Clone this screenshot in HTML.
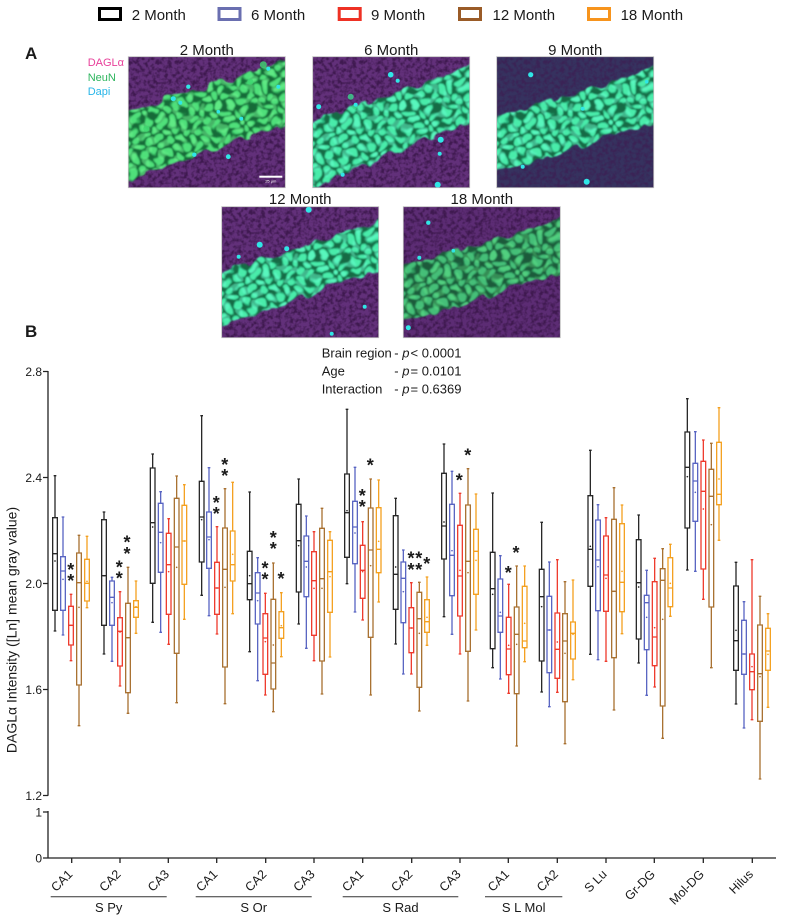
<!DOCTYPE html>
<html>
<head>
<meta charset="utf-8">
<style>
html,body{margin:0;padding:0;background:#fff;}
svg{display:block;}
text{font-family:"Liberation Sans","DejaVu Sans",sans-serif;fill:#1a1a1a;}
.bx path{fill:none;stroke-width:1.3;vector-effect:non-scaling-stroke;}
.k path{stroke:#262626}.k circle{fill:#262626}
.b path{stroke:#5864c2}.b circle{fill:#5864c2}
.r path{stroke:#ee3a2c}.r circle{fill:#ee3a2c}
.n path{stroke:#a87030}.n circle{fill:#a87030}
.o path{stroke:#f4a01f}.o circle{fill:#f4a01f}
.ax{stroke:#222;stroke-width:1.3;fill:none;}
.st{font-weight:bold;font-size:18px;text-anchor:middle;fill:#111;}
.tl{font-size:12px;text-anchor:end;}
.xl{font-size:12.5px;text-anchor:end;}
</style>
</head>
<body>
<svg width="787" height="921" viewBox="0 0 787 921" xmlns="http://www.w3.org/2000/svg">
<defs>
  <clipPath id="ci"><rect width="157" height="131"/></clipPath>
  <filter id="spk" x="0" y="0" width="1" height="1">
    <feTurbulence type="fractalNoise" baseFrequency="0.25" numOctaves="2" seed="2"/>
    <feColorMatrix type="matrix" values="0 0 0 0 0.05  0 0 0 0 0.01  0 0 0 0 0.08  3 0 0 0 -1.2"/>
  </filter>
  <filter id="rough" x="-10%" y="-10%" width="120%" height="120%">
    <feTurbulence type="fractalNoise" baseFrequency="0.06" numOctaves="2" seed="5" result="t"/>
    <feDisplacementMap in="SourceGraphic" in2="t" scale="16" xChannelSelector="R" yChannelSelector="G" result="d"/>
    <feGaussianBlur in="d" stdDeviation="0.7"/>
  </filter>
  <pattern id="cA" width="10" height="9" patternUnits="userSpaceOnUse" patternTransform="rotate(-30)">
    <rect width="10" height="9" fill="#166a38"/>
    <ellipse cx="5" cy="4.5" rx="4.1" ry="3.6" fill="#4fe07a"/>
    <ellipse cx="5" cy="4.5" rx="4.1" ry="3.6" fill="none" stroke="#2aa856" stroke-width="0.8"/>
  </pattern>
  <pattern id="cA2" width="13" height="11" patternUnits="userSpaceOnUse" patternTransform="rotate(17) translate(3 2)">
    <ellipse cx="6" cy="5" rx="3.8" ry="3.4" fill="#6cf08c" opacity="0.55"/>
  </pattern>
  <pattern id="cB" width="10" height="9" patternUnits="userSpaceOnUse" patternTransform="rotate(-30)">
    <rect width="10" height="9" fill="#166a44"/>
    <ellipse cx="5" cy="4.5" rx="4.1" ry="3.6" fill="#48ecaa"/>
    <ellipse cx="5" cy="4.5" rx="4.1" ry="3.6" fill="none" stroke="#26b07a" stroke-width="0.8"/>
  </pattern>
  <pattern id="cB2" width="13" height="11" patternUnits="userSpaceOnUse" patternTransform="rotate(17) translate(3 2)">
    <ellipse cx="6" cy="5" rx="3.8" ry="3.4" fill="#6affd0" opacity="0.5"/>
  </pattern>
  <pattern id="cC" width="10" height="9" patternUnits="userSpaceOnUse" patternTransform="rotate(-30)">
    <rect width="10" height="9" fill="#1a5a3a"/>
    <ellipse cx="5" cy="4.5" rx="4.1" ry="3.6" fill="#44bf78"/>
    <ellipse cx="5" cy="4.5" rx="4.1" ry="3.6" fill="none" stroke="#2a9058" stroke-width="0.8"/>
  </pattern>
</defs>

<!-- Legend -->
<g stroke-width="3" fill="none">
  <rect x="99.5" y="8.5" width="21" height="11" stroke="#000"/>
  <rect x="219" y="8.5" width="21" height="11" stroke="#6a6fb0"/>
  <rect x="339.2" y="8.5" width="21" height="11" stroke="#ee3124"/>
  <rect x="459.5" y="8.5" width="21" height="11" stroke="#9a5b27"/>
  <rect x="588.5" y="8.5" width="21" height="11" stroke="#f7941d"/>
</g>
<g font-size="15">
  <text x="131.7" y="20">2 Month</text>
  <text x="251" y="20">6 Month</text>
  <text x="371" y="20">9 Month</text>
  <text x="492.5" y="20">12 Month</text>
  <text x="620.6" y="20">18 Month</text>
</g>

<!-- Panel A -->
<text x="25" y="59" font-size="17" font-weight="bold">A</text>
<g font-size="11">
  <text x="87.7" y="66" style="fill:#e8409a">DAGLα</text>
  <text x="87.7" y="81" style="fill:#2db55d">NeuN</text>
  <text x="87.7" y="95" style="fill:#27b5e8">Dapi</text>
</g>
<g font-size="15" text-anchor="middle">
  <text x="206.8" y="55">2 Month</text>
  <text x="391.2" y="55">6 Month</text>
  <text x="575.2" y="55">9 Month</text>
  <text x="300.2" y="204">12 Month</text>
  <text x="481.8" y="204">18 Month</text>
</g>

<!-- 2 Month -->
<g transform="translate(128.3 56.7)">
  <g clip-path="url(#ci)">
    <rect width="157" height="131" fill="#62307a"/>
    <rect width="157" height="131" filter="url(#spk)"/>
    <g filter="url(#rough)">
      <polygon points="-10,59 167,0 167,65 -10,126" fill="url(#cA)"/>
      <polygon points="-10,59 167,0 167,65 -10,126" fill="url(#cA2)"/>
    </g>
    <g fill="#3ed870" opacity="0.8">
      <circle cx="135" cy="8" r="3.5"/><circle cx="122" cy="25" r="3"/><circle cx="18" cy="72" r="3"/>
    </g>
    <g fill="#30e6e6">
      <circle cx="45" cy="42" r="2.5"/><circle cx="52" cy="46" r="2"/><circle cx="60" cy="30" r="2.2"/>
      <circle cx="113" cy="62" r="2"/><circle cx="100" cy="100" r="2.4"/><circle cx="66" cy="98" r="2.2"/>
      <circle cx="150" cy="30" r="2"/><circle cx="140" cy="12" r="2"/><circle cx="90" cy="55" r="1.8"/>
    </g>
  </g>
  <rect width="157" height="131" fill="none" stroke="#bdbdbd" stroke-width="0.8"/>
  <rect x="131" y="119" width="23" height="2" fill="#fff"/>
  <text x="142.5" y="126" font-size="4" text-anchor="middle" style="fill:#fff">25 μm</text>
</g>

<!-- 6 Month -->
<g transform="translate(312.7 56.7)">
  <g clip-path="url(#ci)">
    <rect width="157" height="131" fill="#62307a"/>
    <rect width="157" height="131" filter="url(#spk)"/>
    <g filter="url(#rough)">
      <polygon points="-10,70 167,6 167,62 -10,134" fill="url(#cB)"/>
      <polygon points="-10,70 167,6 167,62 -10,134" fill="url(#cB2)"/>
    </g>
    <g fill="#3ed890" opacity="0.8">
      <circle cx="38" cy="40" r="3"/><circle cx="42" cy="50" r="2.5"/>
    </g>
    <g fill="#30e6e6">
      <circle cx="78" cy="18" r="2.8"/><circle cx="85" cy="24" r="2"/><circle cx="6" cy="50" r="2.5"/>
      <circle cx="128" cy="83" r="3"/><circle cx="127" cy="97" r="2"/><circle cx="30" cy="118" r="2"/>
      <circle cx="125" cy="128" r="3"/><circle cx="43" cy="48" r="2"/>
    </g>
  </g>
  <rect width="157" height="131" fill="none" stroke="#bdbdbd" stroke-width="0.8"/>
</g>

<!-- 9 Month -->
<g transform="translate(496.7 56.7)">
  <g clip-path="url(#ci)">
    <rect width="157" height="131" fill="#36325f"/>
    <rect width="157" height="131" filter="url(#spk)" opacity="0.6"/>
    <g filter="url(#rough)">
      <polygon points="-10,66 167,8 167,64 -10,118" fill="url(#cB)"/>
      <polygon points="-10,66 167,8 167,64 -10,118" fill="url(#cB2)"/>
    </g>
    <g fill="#30e6e6">
      <circle cx="34" cy="18" r="2.6"/><circle cx="86" cy="52" r="2"/><circle cx="90" cy="125" r="3"/>
      <circle cx="26" cy="110" r="2"/><circle cx="150" cy="25" r="1.8"/>
    </g>
  </g>
  <rect width="157" height="131" fill="none" stroke="#bdbdbd" stroke-width="0.8"/>
</g>

<!-- 12 Month -->
<g transform="translate(221.7 206.7)">
  <g clip-path="url(#ci)">
    <rect width="157" height="131" fill="#62307a"/>
    <rect width="157" height="131" filter="url(#spk)"/>
    <g filter="url(#rough)">
      <polygon points="-10,70 167,12 167,60 -10,122" fill="url(#cB)"/>
      <polygon points="-10,70 167,12 167,60 -10,122" fill="url(#cB2)"/>
    </g>
    <g fill="#30e6e6">
      <circle cx="87" cy="3" r="3"/><circle cx="38" cy="38" r="3"/><circle cx="17" cy="50" r="2"/>
      <circle cx="143" cy="100" r="2"/><circle cx="110" cy="127" r="2"/><circle cx="65" cy="42" r="2.5"/>
    </g>
  </g>
  <rect width="157" height="131" fill="none" stroke="#bdbdbd" stroke-width="0.8"/>
</g>

<!-- 18 Month -->
<g transform="translate(403.3 206.7)">
  <g clip-path="url(#ci)">
    <rect width="157" height="131" fill="#5c2c74"/>
    <rect width="157" height="131" filter="url(#spk)"/>
    <g filter="url(#rough)">
      <polygon points="-10,64 167,10 167,64 -10,118" fill="url(#cC)"/>
      <polygon points="-10,64 167,10 167,64 -10,118" fill="url(#cA2)" opacity="0.6"/>
    </g>
    <g fill="#30e6e6">
      <circle cx="25" cy="16" r="2.2"/><circle cx="16" cy="51" r="2"/><circle cx="5" cy="121" r="2.5"/>
      <circle cx="50" cy="44" r="1.8"/>
    </g>
  </g>
  <rect width="157" height="131" fill="none" stroke="#bdbdbd" stroke-width="0.8"/>
</g>

<!-- Panel B -->
<text x="25" y="337" font-size="17" font-weight="bold">B</text>
<g font-size="13">
  <text x="321.7" y="357.3">Brain region</text>
  <text x="394.3" y="357.3">- <tspan font-style="italic">p</tspan><tspan dx="1">&lt; 0.0001</tspan></text>
  <text x="321.7" y="375.7">Age</text>
  <text x="394.3" y="375.7">- <tspan font-style="italic">p</tspan><tspan dx="1">= 0.0101</tspan></text>
  <text x="321.7" y="393.3">Interaction</text>
  <text x="394.3" y="393.3">- <tspan font-style="italic">p</tspan><tspan dx="1">= 0.6369</tspan></text>
</g>

<!-- Y axis -->
<path class="ax" d="M48 371V795.7M43 371.5H48M43 477.5H48M43 583.5H48M43 689.5H48M43 795.5H48M48 811V858.3M43 812H48M43 858H48"/>
<g class="tl">
  <text x="42" y="376">2.8</text>
  <text x="42" y="482">2.4</text>
  <text x="42" y="588">2.0</text>
  <text x="42" y="694">1.6</text>
  <text x="42" y="800">1.2</text>
  <text x="42" y="816.5">1</text>
  <text x="42" y="862.5">0</text>
</g>
<text transform="translate(16.5 630) rotate(-90)" font-size="14" text-anchor="middle">DAGLα Intensity ([Ln] mean gray value)</text>

<!-- X axis -->
<path class="ax" d="M48 858H776M71.7 858v5M120 858v5M168.3 858v5M216.7 858v5M265.7 858v5M314 858v5M362.7 858v5M411.7 858v5M460 858v5M508.3 858v5M557.3 858v5M606 858v5M654.3 858v5M703.3 858v5M752.3 858v5"/>
<g class="xl">
  <text transform="translate(73.3 875) rotate(-45)">CA1</text>
  <text transform="translate(121.6 875) rotate(-45)">CA2</text>
  <text transform="translate(169.9 875) rotate(-45)">CA3</text>
  <text transform="translate(218.3 875) rotate(-45)">CA1</text>
  <text transform="translate(267.3 875) rotate(-45)">CA2</text>
  <text transform="translate(315.6 875) rotate(-45)">CA3</text>
  <text transform="translate(364.3 875) rotate(-45)">CA1</text>
  <text transform="translate(413.3 875) rotate(-45)">CA2</text>
  <text transform="translate(461.6 875) rotate(-45)">CA3</text>
  <text transform="translate(509.9 875) rotate(-45)">CA1</text>
  <text transform="translate(558.9 875) rotate(-45)">CA2</text>
  <text transform="translate(607.6 875) rotate(-45)">S Lu</text>
  <text transform="translate(655.9 875) rotate(-45)">Gr-DG</text>
  <text transform="translate(704.9 875) rotate(-45)">Mol-DG</text>
  <text transform="translate(753.9 875) rotate(-45)">Hilus</text>
</g>
<path d="M50.7 896.7H166.7M195.7 896.7H311.7M342.7 896.7H458.3M485 896.7H562.3" stroke="#333" stroke-width="1"/>
<g font-size="13" text-anchor="middle">
  <text x="108.7" y="912">S Py</text>
  <text x="253.7" y="912">S Or</text>
  <text x="400.5" y="912">S Rad</text>
  <text x="523.7" y="912">S L Mol</text>
</g>

<!-- Boxes: zoom 4 region -->
<g class="bx" transform="translate(30 390) scale(0.333333)">
  <g class="k" transform="translate(75 0)"><path d="M-7 383H7V661H-7ZM0 257V383M0 661V723M-4 257h8M-4 723h8M-7 491h14"/><circle cy="513" r="2.5"/></g>
  <g class="b" transform="translate(99 0)"><path d="M-7 500H7V661H-7ZM0 381V500M0 661V735M-4 381h8M-4 735h8M-7 543h14"/><circle cy="568" r="2.5"/></g>
  <g class="r" transform="translate(123 0)"><path d="M-7 649H7V765H-7ZM0 613V649M0 765V812M-4 613h8M-4 812h8M-7 706h14"/><circle cy="706" r="2.5"/></g>
  <g class="n" transform="translate(147 0)"><path d="M-7 489H7V885H-7ZM0 436V489M0 885V1007M-4 436h8M-4 1007h8M-7 578h14"/><circle cy="652" r="2.5"/></g>
  <g class="o" transform="translate(171 0)"><path d="M-7 508H7V633H-7ZM0 439V508M0 633V653M-4 439h8M-4 653h8M-7 580h14"/><circle cy="574" r="2.5"/></g>
  <g class="k" transform="translate(222 0)"><path d="M-7 389H7V706H-7ZM0 366V389M0 706V792M-4 366h8M-4 792h8M-7 557h14"/><circle cy="557" r="2.5"/></g>
  <g class="b" transform="translate(246 0)"><path d="M-7 573H7V706H-7ZM0 562V573M0 706V814M-4 562h8M-4 814h8M-7 622h14"/><circle cy="638" r="2.5"/></g>
  <g class="r" transform="translate(270 0)"><path d="M-7 683H7V828H-7ZM0 605V683M0 828V888M-4 605h8M-4 888h8M-7 724h14"/><circle cy="726" r="2.5"/></g>
  <g class="n" transform="translate(294 0)"><path d="M-7 640H7V908H-7ZM0 532V640M0 908V970M-4 532h8M-4 970h8M-7 743h14"/><circle cy="743" r="2.5"/></g>
  <g class="o" transform="translate(318 0)"><path d="M-7 632H7V682H-7ZM0 573V632M0 682V730M-4 573h8M-4 730h8M-7 652h14"/><circle cy="650" r="2.5"/></g>
  <g class="k" transform="translate(368 0)"><path d="M-7 234H7V580H-7ZM0 192V234M0 580V697M-4 192h8M-4 697h8M-7 398h14"/><circle cy="411" r="2.5"/></g>
  <g class="b" transform="translate(392 0)"><path d="M-7 340H7V547H-7ZM0 305V340M0 547V727M-4 305h8M-4 727h8M-7 427h14"/><circle cy="458" r="2.5"/></g>
  <g class="r" transform="translate(416 0)"><path d="M-7 430H7V673H-7ZM0 386V430M0 673V763M-4 386h8M-4 763h8M-7 524h14"/><circle cy="545" r="2.5"/></g>
  <g class="n" transform="translate(440 0)"><path d="M-7 325H7V790H-7ZM0 258V325M0 790V938M-4 258h8M-4 938h8M-7 471h14"/><circle cy="532" r="2.5"/></g>
  <g class="o" transform="translate(463 0)"><path d="M-7 346H7V583H-7ZM0 284V346M0 583V688M-4 284h8M-4 688h8M-7 453h14"/><circle cy="453" r="2.5"/></g>
  <g class="k" transform="translate(515 0)"><path d="M-7 274H7V516H-7ZM0 77V274M0 516V616M-4 77h8M-4 616h8M-7 381h14"/><circle cy="389" r="2.5"/></g>
  <g class="b" transform="translate(537 0)"><path d="M-7 366H7V535H-7ZM0 233V366M0 535V677M-4 233h8M-4 677h8M-7 441h14"/><circle cy="449" r="2.5"/></g>
  <g class="r" transform="translate(561 0)"><path d="M-7 517H7V673H-7ZM0 410V517M0 673V732M-4 410h8M-4 732h8M-7 594h14"/><circle cy="594" r="2.5"/></g>
  <g class="n" transform="translate(585 0)"><path d="M-7 414H7V831H-7ZM0 296V414M0 831V941M-4 296h8M-4 941h8M-7 538h14"/><circle cy="592" r="2.5"/></g>
  <g class="o" transform="translate(608 0)"><path d="M-7 423H7V573H-7ZM0 277V423M0 573V671M-4 277h8M-4 671h8M-7 524h14"/><circle cy="493" r="2.5"/></g>
  <g class="k" transform="translate(659 0)"><path d="M-7 484H7V629H-7ZM0 306V484M0 629V785M-4 306h8M-4 785h8M-7 581h14"/><circle cy="557" r="2.5"/></g>
  <g class="b" transform="translate(683 0)"><path d="M-7 548H7V702H-7ZM0 503V548M0 702V872M-4 503h8M-4 872h8M-7 609h14"/><circle cy="632" r="2.5"/></g>
  <g class="r" transform="translate(706 0)"><path d="M-7 671H7V853H-7ZM0 610V671M0 853V915M-4 610h8M-4 915h8M-7 744h14"/><circle cy="755" r="2.5"/></g>
  <g class="n" transform="translate(730 0)"><path d="M-7 628H7V897H-7ZM0 519V628M0 897V965M-4 519h8M-4 965h8M-7 819h14"/><circle cy="765" r="2.5"/></g>
  <g class="o" transform="translate(754 0)"><path d="M-7 665H7V745H-7ZM0 608V665M0 745V800M-4 608h8M-4 800h8M-7 713h14"/><circle cy="707" r="2.5"/></g>
</g>

<!-- Boxes: zoom 5 region -->
<g class="bx" transform="translate(280 390) scale(0.333333)">
  <g class="k" transform="translate(56 0)"><path d="M-7 343H7V606H-7ZM0 267V343M0 606V702M-4 267h8M-4 702h8M-7 452h14"/><circle cy="467" r="2.5"/></g>
  <g class="b" transform="translate(79 0)"><path d="M-7 438H7V620H-7ZM0 378V438M0 620V775M-4 378h8M-4 775h8M-7 514h14"/><circle cy="531" r="2.5"/></g>
  <g class="r" transform="translate(102 0)"><path d="M-7 485H7V736H-7ZM0 425V485M0 736V812M-4 425h8M-4 812h8M-7 572h14"/><circle cy="595" r="2.5"/></g>
  <g class="n" transform="translate(126 0)"><path d="M-7 415H7V813H-7ZM0 355V415M0 813V912M-4 355h8M-4 912h8M-7 566h14"/><circle cy="595" r="2.5"/></g>
  <g class="o" transform="translate(150 0)"><path d="M-7 451H7V667H-7ZM0 425V451M0 667V801M-4 425h8M-4 801h8M-7 545h14"/><circle cy="560" r="2.5"/></g>
  <g class="k" transform="translate(201 0)"><path d="M-7 252H7V502H-7ZM0 58V252M0 502V581M-4 58h8M-4 581h8M-7 368h14"/><circle cy="362" r="2.5"/></g>
  <g class="b" transform="translate(225 0)"><path d="M-7 334H7V521H-7ZM0 232V334M0 521V666M-4 232h8M-4 666h8M-7 411h14"/><circle cy="429" r="2.5"/></g>
  <g class="r" transform="translate(248 0)"><path d="M-7 466H7V625H-7ZM0 395V466M0 625V690M-4 395h8M-4 690h8M-7 541h14"/><circle cy="545" r="2.5"/></g>
  <g class="n" transform="translate(272 0)"><path d="M-7 354H7V742H-7ZM0 267V354M0 742V915M-4 267h8M-4 915h8M-7 480h14"/><circle cy="527" r="2.5"/></g>
  <g class="o" transform="translate(296 0)"><path d="M-7 353H7V548H-7ZM0 270V353M0 548V636M-4 270h8M-4 636h8M-7 478h14"/><circle cy="454" r="2.5"/></g>
  <g class="k" transform="translate(347 0)"><path d="M-7 377H7V658H-7ZM0 325V377M0 658V762M-4 325h8M-4 762h8M-7 553h14"/><circle cy="531" r="2.5"/></g>
  <g class="b" transform="translate(370 0)"><path d="M-7 516H7V698H-7ZM0 480V516M0 698V852M-4 480h8M-4 852h8M-7 565h14"/><circle cy="605" r="2.5"/></g>
  <g class="r" transform="translate(394 0)"><path d="M-7 653H7V788H-7ZM0 578V653M0 788V852M-4 578h8M-4 852h8M-7 714h14"/><circle cy="714" r="2.5"/></g>
  <g class="n" transform="translate(418 0)"><path d="M-7 607H7V892H-7ZM0 577V607M0 892V963M-4 577h8M-4 963h8M-7 686h14"/><circle cy="730" r="2.5"/></g>
  <g class="o" transform="translate(441 0)"><path d="M-7 629H7V727H-7ZM0 561V629M0 727V766M-4 561h8M-4 766h8M-7 695h14"/><circle cy="682" r="2.5"/></g>
  <g class="k" transform="translate(492 0)"><path d="M-7 250H7V507H-7ZM0 162V250M0 507V680M-4 162h8M-4 680h8M-7 408h14"/><circle cy="396" r="2.5"/></g>
  <g class="b" transform="translate(516 0)"><path d="M-7 343H7V617H-7ZM0 244V343M0 617V733M-4 244h8M-4 733h8M-7 496h14"/><circle cy="482" r="2.5"/></g>
  <g class="r" transform="translate(540 0)"><path d="M-7 406H7V678H-7ZM0 310V406M0 678V792M-4 310h8M-4 792h8M-7 558h14"/><circle cy="541" r="2.5"/></g>
  <g class="n" transform="translate(564 0)"><path d="M-7 345H7V784H-7ZM0 236V345M0 784V933M-4 236h8M-4 933h8M-7 514h14"/><circle cy="548" r="2.5"/></g>
  <g class="o" transform="translate(588 0)"><path d="M-7 418H7V613H-7ZM0 312V418M0 613V720M-4 312h8M-4 720h8M-7 484h14"/><circle cy="511" r="2.5"/></g>
  <g class="k" transform="translate(638 0)"><path d="M-7 487H7V776H-7ZM0 309V487M0 776V833M-4 309h8M-4 833h8M-7 596h14"/><circle cy="613" r="2.5"/></g>
  <g class="b" transform="translate(661 0)"><path d="M-7 567H7V727H-7ZM0 497V567M0 727V867M-4 497h8M-4 867h8M-7 678h14"/><circle cy="667" r="2.5"/></g>
  <g class="r" transform="translate(686 0)"><path d="M-7 682H7V854H-7ZM0 583V682M0 854V910M-4 583h8M-4 910h8M-7 777h14"/><circle cy="766" r="2.5"/></g>
  <g class="n" transform="translate(710 0)"><path d="M-7 651H7V911H-7ZM0 528V651M0 911V1068M-4 528h8M-4 1068h8M-7 733h14"/><circle cy="763" r="2.5"/></g>
  <g class="o" transform="translate(734 0)"><path d="M-7 589H7V773H-7ZM0 528V589M0 773V815M-4 528h8M-4 815h8M-7 753h14"/><circle cy="700" r="2.5"/></g>
</g>

<!-- Boxes: zoom 6 region -->
<g class="bx" transform="translate(530 390) scale(0.333333)">
  <g class="k" transform="translate(35 0)"><path d="M-7 538H7V813H-7ZM0 397V538M0 813V906M-4 397h8M-4 906h8M-7 620h14"/><circle cy="650" r="2.5"/></g>
  <g class="b" transform="translate(58 0)"><path d="M-7 619H7V848H-7ZM0 516V619M0 848V950M-4 516h8M-4 950h8M-7 720h14"/><circle cy="720" r="2.5"/></g>
  <g class="r" transform="translate(82 0)"><path d="M-7 669H7V865H-7ZM0 509V669M0 865V907M-4 509h8M-4 907h8M-7 778h14"/><circle cy="756" r="2.5"/></g>
  <g class="n" transform="translate(105 0)"><path d="M-7 671H7V935H-7ZM0 575V671M0 935V1061M-4 575h8M-4 1061h8M-7 753h14"/><circle cy="790" r="2.5"/></g>
  <g class="o" transform="translate(129 0)"><path d="M-7 696H7V807H-7ZM0 570V696M0 807V869M-4 570h8M-4 869h8M-7 730h14"/><circle cy="733" r="2.5"/></g>
  <g class="k" transform="translate(181 0)"><path d="M-7 317H7V589H-7ZM0 181V317M0 589V793M-4 181h8M-4 793h8M-7 478h14"/><circle cy="469" r="2.5"/></g>
  <g class="b" transform="translate(204 0)"><path d="M-7 390H7V662H-7ZM0 344V390M0 662V809M-4 344h8M-4 809h8M-7 510h14"/><circle cy="530" r="2.5"/></g>
  <g class="r" transform="translate(228 0)"><path d="M-7 438H7V664H-7ZM0 383V438M0 664V814M-4 383h8M-4 814h8M-7 555h14"/><circle cy="565" r="2.5"/></g>
  <g class="n" transform="translate(252 0)"><path d="M-7 388H7V803H-7ZM0 293V388M0 803V960M-4 293h8M-4 960h8M-7 604h14"/><circle cy="604" r="2.5"/></g>
  <g class="o" transform="translate(276 0)"><path d="M-7 401H7V665H-7ZM0 345V401M0 665V731M-4 345h8M-4 731h8M-7 577h14"/><circle cy="544" r="2.5"/></g>
  <g class="k" transform="translate(326 0)"><path d="M-7 449H7V747H-7ZM0 375V449M0 747V819M-4 375h8M-4 819h8M-7 578h14"/><circle cy="591" r="2.5"/></g>
  <g class="b" transform="translate(350 0)"><path d="M-7 616H7V779H-7ZM0 541V616M0 779V916M-4 541h8M-4 916h8M-7 638h14"/><circle cy="682" r="2.5"/></g>
  <g class="r" transform="translate(374 0)"><path d="M-7 575H7V827H-7ZM0 505V575M0 827V891M-4 505h8M-4 891h8M-7 741h14"/><circle cy="713" r="2.5"/></g>
  <g class="n" transform="translate(398 0)"><path d="M-7 536H7V948H-7ZM0 476V536M0 948V1045M-4 476h8M-4 1045h8M-7 571h14"/><circle cy="688" r="2.5"/></g>
  <g class="o" transform="translate(421 0)"><path d="M-7 503H7V650H-7ZM0 463V503M0 650V679M-4 463h8M-4 679h8M-7 594h14"/><circle cy="580" r="2.5"/></g>
  <g class="k" transform="translate(472 0)"><path d="M-7 126H7V414H-7ZM0 26V126M0 414V540M-4 26h8M-4 540h8M-7 232h14"/><circle cy="260" r="2.5"/></g>
  <g class="b" transform="translate(496 0)"><path d="M-7 220H7V394H-7ZM0 125V220M0 394V544M-4 125h8M-4 544h8M-7 273h14"/><circle cy="307" r="2.5"/></g>
  <g class="r" transform="translate(520 0)"><path d="M-7 214H7V537H-7ZM0 150V214M0 537V628M-4 150h8M-4 628h8M-7 304h14"/><circle cy="357" r="2.5"/></g>
  <g class="n" transform="translate(544 0)"><path d="M-7 238H7V651H-7ZM0 160V238M0 651V833M-4 160h8M-4 833h8M-7 319h14"/><circle cy="404" r="2.5"/></g>
  <g class="o" transform="translate(567 0)"><path d="M-7 157H7V344H-7ZM0 53V157M0 344V451M-4 53h8M-4 451h8M-7 313h14"/><circle cy="267" r="2.5"/></g>
  <g class="k" transform="translate(618 0)"><path d="M-7 588H7V841H-7ZM0 517V588M0 841V942M-4 517h8M-4 942h8M-7 752h14"/><circle cy="721" r="2.5"/></g>
  <g class="b" transform="translate(642 0)"><path d="M-7 691H7V853H-7ZM0 635V691M0 853V1014M-4 635h8M-4 1014h8M-7 792h14"/><circle cy="792" r="2.5"/></g>
  <g class="r" transform="translate(666 0)"><path d="M-7 792H7V899H-7ZM0 509V792M0 899V989M-4 509h8M-4 989h8M-7 845h14"/><circle cy="830" r="2.5"/></g>
  <g class="n" transform="translate(690 0)"><path d="M-7 705H7V994H-7ZM0 619V705M0 994V1167M-4 619h8M-4 1167h8M-7 851h14"/><circle cy="860" r="2.5"/></g>
  <g class="o" transform="translate(714 0)"><path d="M-7 715H7V841H-7ZM0 671V715M0 841V952M-4 671h8M-4 952h8M-7 783h14"/><circle cy="793" r="2.5"/></g>
</g>

<!-- Significance stars -->
<g class="st">
  <text x="70.7" y="576.2">*</text><text x="70.7" y="587.2">*</text>
  <text x="119.3" y="573.5">*</text><text x="119.3" y="584.5">*</text>
  <text x="127" y="548.5">*</text><text x="127" y="559.8">*</text>
  <text x="216.3" y="508.8">*</text><text x="216.3" y="519.8">*</text>
  <text x="224.7" y="471.2">*</text><text x="224.7" y="482.2">*</text>
  <text x="265" y="574.5">*</text><text x="265" y="585.5">*</text>
  <text x="273.3" y="543.8">*</text><text x="273.3" y="554.8">*</text>
  <text x="281" y="584.8">*</text>
  <text x="362.3" y="502.2">*</text><text x="362.3" y="513.2">*</text>
  <text x="370.3" y="471.5">*</text>
  <text x="411" y="564.5">*</text><text x="411" y="576.2">*</text>
  <text x="418.7" y="564.5">*</text><text x="418.7" y="576.2">*</text>
  <text x="426.7" y="569.8">*</text>
  <text x="459.3" y="486.5">*</text>
  <text x="467.7" y="461.5">*</text>
  <text x="508.3" y="578.8">*</text>
  <text x="516" y="558.8">*</text>
</g>
</svg>
</body>
</html>
